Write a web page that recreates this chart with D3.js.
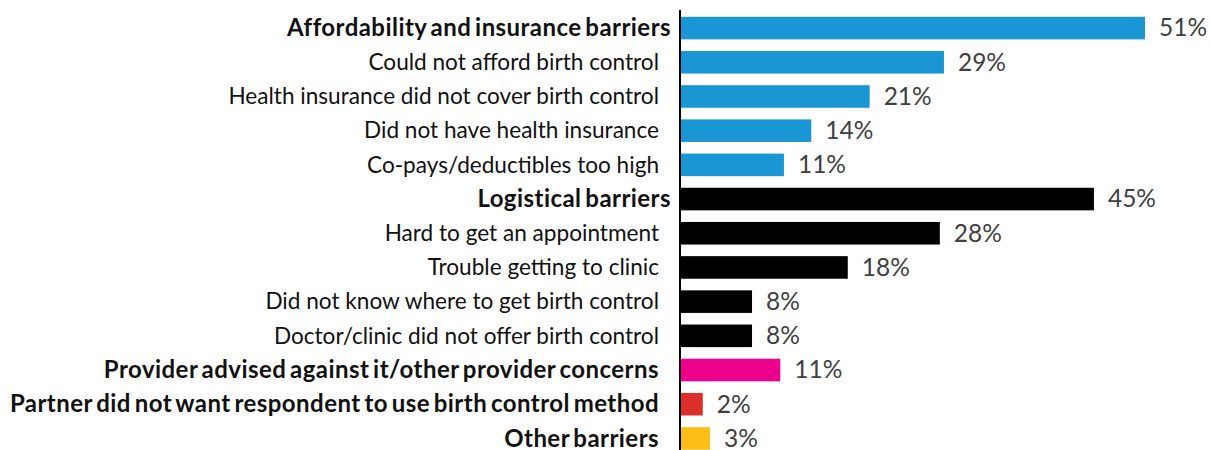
<!DOCTYPE html>
<html>
<head>
<meta charset="utf-8">
<script src="https://cdn.jsdelivr.net/npm/d3@7"></script>
<style>
  body { margin: 0; background: #fff; }
  svg { display: block; font-family: Lato, "Open Sans", sans-serif; }
</style>
</head>
<body>
<svg id="chart"></svg>
<script>
const categories = [
    "Affordability and insurance barriers",
    "Could not afford birth control",
    "Health insurance did not cover birth control",
    "Did not have health insurance",
    "Co-pays/deductibles too high",
    "Logistical barriers",
    "Hard to get an appointment",
    "Trouble getting to clinic",
    "Did not know where to get birth control",
    "Doctor/clinic did not offer birth control",
    "Provider advised against it/other provider concerns",
    "Partner did not want respondent to use birth control method",
    "Other barriers"
];
// bar lengths (labels are rounded)
const values = [51, 28.95, 20.8, 14.4, 11.4, 45.4, 28.5, 18.4, 7.9, 7.9, 11.0, 2.5, 3.3];
const valueLabels = ["51%", "29%", "21%", "14%", "11%", "45%", "28%", "18%", "8%", "8%", "11%", "2%", "3%"];
const groups = ["afford", "afford", "afford", "afford", "afford",
                "logistic", "logistic", "logistic", "logistic", "logistic",
                "provider", "partner", "other"];
const boldLabels = [
    "Affordability and insurance barriers",
    "Logistical barriers",
    "Provider advised against it/other provider concerns",
    "Partner did not want respondent to use birth control method",
    "Other barriers"
];
const headerLabels = ["Affordability and insurance barriers", "Logistical barriers"];

const data = categories.map((c, i) => ({ category: c, value: values[i], label: valueLabels[i], group: groups[i] }));

const width = 1211, height = 450;
const axisX = 680;

const svg = d3.select("#chart")
    .attr("width", width)
    .attr("height", height);

const color = d3.scaleOrdinal()
    .domain(["afford", "logistic", "provider", "partner", "other"])
    .range(["#1a96d4", "#000000", "#ec008c", "#dc2f2a", "#fdbe16"]);

const x = d3.scaleLinear()
    .domain([0, 51])
    .range([axisX, 1145]);

const y = d3.scaleBand()
    .domain(categories)
    .range([11, 455.5])
    .paddingInner(0.34)
    .paddingOuter(0.17);

svg.selectAll(".bar")
    .data(data)
    .enter().append("rect")
    .attr("class", "bar")
    .attr("x", x(0))
    .attr("y", d => y(d.category))
    .attr("width", d => x(d.value) - x(0))
    .attr("height", y.bandwidth())
    .attr("fill", d => color(d.group));

svg.selectAll(".value")
    .data(data)
    .enter().append("text")
    .attr("class", "value")
    .attr("x", d => x(d.value) + 14)
    .attr("y", d => y(d.category) + y.bandwidth() / 2)
    .attr("dy", "0.34em")
    .style("font-size", "24.5px")
    .style("fill", "#404040")
    .text(d => d.label);

svg.selectAll(".label")
    .data(data)
    .enter().append("text")
    .attr("class", "label")
    .attr("x", d => headerLabels.includes(d.category) ? axisX - 9 : axisX - 21)
    .attr("y", d => y(d.category) + y.bandwidth() / 2)
    .attr("dy", "0.34em")
    .attr("text-anchor", "end")
    .style("font-size", d => boldLabels.includes(d.category) ? "24px" : "22.6px")
    .style("font-weight", d => boldLabels.includes(d.category) ? "bold" : "normal")
    .style("letter-spacing", d => boldLabels.includes(d.category) ? "0.45px" : "0px")
    .style("word-spacing", d => boldLabels.includes(d.category) ? "-2.5px" : "0px")
    .style("fill", "#111")
    .text(d => d.category);

svg.append("line")
    .attr("x1", axisX)
    .attr("x2", axisX)
    .attr("y1", 10)
    .attr("y2", height)
    .attr("stroke", "#000")
    .attr("stroke-width", 2);
</script>
</body>
</html>
